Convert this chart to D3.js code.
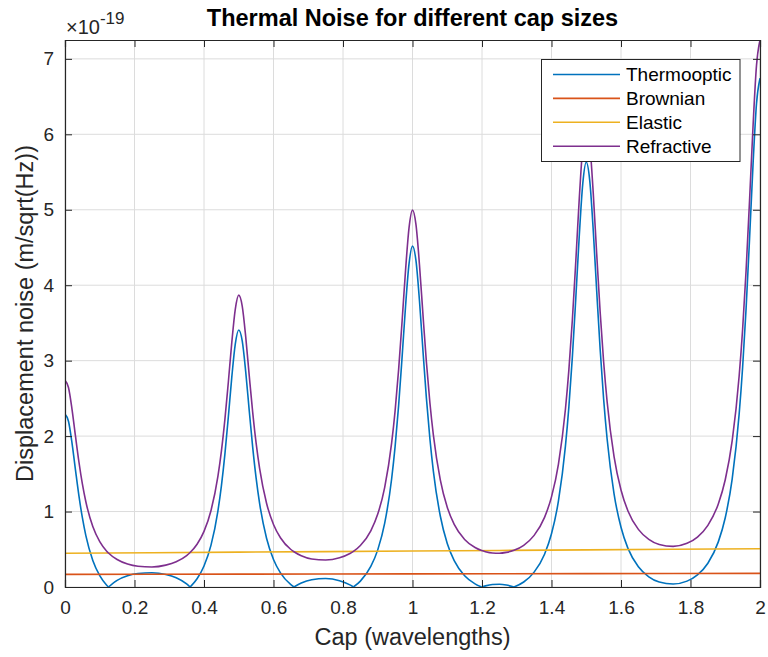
<!DOCTYPE html>
<html>
<head>
<meta charset="utf-8">
<script src="https://cdn.jsdelivr.net/npm/d3@7"></script>
<style>
  html, body { margin: 0; padding: 0; background: #fff; }
  svg { display: block; }
  text { font-family: "Liberation Sans", Arial, Helvetica, sans-serif; }
</style>
</head>
<body>
<svg id="chart" width="768" height="657"></svg>
<script>
// ---------------- data ----------------
const cap = [
  0, 0.01, 0.02, 0.03, 0.04, 0.05, 0.06, 0.08, 0.10, 0.12, 0.125, 0.15, 0.18, 0.21, 0.25,
  0.29, 0.32, 0.35, 0.36, 0.38, 0.40, 0.42, 0.44, 0.45, 0.46, 0.47, 0.48, 0.49, 0.50,
  0.51, 0.52, 0.53, 0.54, 0.55, 0.56, 0.58, 0.60, 0.62, 0.65, 0.659, 0.68, 0.71, 0.75,
  0.79, 0.82, 0.83, 0.85, 0.88, 0.90, 0.92, 0.94, 0.95, 0.96, 0.97, 0.98, 0.99, 1.00,
  1.01, 1.02, 1.03, 1.04, 1.05, 1.06, 1.08, 1.10, 1.12, 1.15, 1.18, 1.199, 1.21, 1.23, 1.25,
  1.27, 1.292, 1.32, 1.35, 1.38, 1.40, 1.42, 1.44, 1.45, 1.46, 1.47, 1.48, 1.49, 1.50,
  1.51, 1.52, 1.53, 1.54, 1.55, 1.56, 1.58, 1.60, 1.62, 1.65, 1.68, 1.71, 1.75,
  1.79, 1.82, 1.85, 1.88, 1.90, 1.92, 1.94, 1.95, 1.96, 1.97, 1.98, 1.99, 2.00
];
const refractive = [
  2.740, 2.644, 2.362, 2.005, 1.660, 1.366, 1.130, 0.801, 0.601, 0.475, 0.451, 0.364, 0.304, 0.275, 0.266,
  0.290, 0.335, 0.417, 0.458, 0.567, 0.738, 1.011, 1.467, 1.798, 2.215, 2.714, 3.242, 3.680, 3.868,
  3.723, 3.318, 2.811, 2.321, 1.906, 1.573, 1.110, 0.829, 0.653, 0.497, 0.467, 0.414, 0.371, 0.357,
  0.387, 0.444, 0.472, 0.550, 0.745, 0.966, 1.321, 1.910, 2.338, 2.877, 3.519, 4.198, 4.759, 4.995,
  4.802, 4.275, 3.616, 2.982, 2.446, 2.016, 1.420, 1.057, 0.830, 0.630, 0.523, 0.483, 0.468, 0.451, 0.448,
  0.459, 0.486, 0.553, 0.684, 0.923, 1.194, 1.630, 2.353, 2.877, 3.538, 4.324, 5.154, 5.838, 6.123,
  5.881, 5.231, 4.421, 3.644, 2.985, 2.459, 1.729, 1.286, 1.008, 0.764, 0.632, 0.564, 0.539,
  0.579, 0.662, 0.817, 1.101, 1.422, 1.939, 2.796, 3.417, 4.199, 5.130, 6.111, 6.917, 7.250
];
const thermooptic = [
  2.293, 2.197, 1.914, 1.557, 1.212, 0.918, 0.681, 0.352, 0.151, 0.024, 0, 0.088, 0.148, 0.178, 0.188,
  0.166, 0.122, 0.041, 0, 0.109, 0.279, 0.551, 1.007, 1.338, 1.754, 2.253, 2.781, 3.218, 3.406,
  3.261, 2.855, 2.348, 1.858, 1.443, 1.109, 0.646, 0.364, 0.187, 0.031, 0, 0.053, 0.097, 0.113,
  0.084, 0.028, 0, 0.078, 0.272, 0.492, 0.846, 1.435, 1.863, 2.401, 3.043, 3.722, 4.282, 4.518,
  4.325, 3.797, 3.138, 2.504, 1.968, 1.537, 0.941, 0.577, 0.349, 0.149, 0.041, 0, 0.015, 0.033, 0.037,
  0.027, 0, 0.066, 0.197, 0.435, 0.705, 1.140, 1.863, 2.387, 3.047, 3.833, 4.663, 5.346, 5.631,
  5.389, 4.738, 3.928, 3.151, 2.492, 1.965, 1.235, 0.791, 0.512, 0.268, 0.135, 0.066, 0.040,
  0.078, 0.160, 0.315, 0.598, 0.918, 1.434, 2.291, 2.912, 3.693, 4.624, 5.605, 6.410, 6.743
];
const capLine  = [0, 0.5, 1, 1.5, 2];
const brownian = [0.168, 0.171, 0.174, 0.177, 0.180];
const elastic  = [0.447, 0.462, 0.477, 0.492, 0.507];

const xTicks = [0, 0.2, 0.4, 0.6, 0.8, 1, 1.2, 1.4, 1.6, 1.8, 2];
const yTicks = [0, 1, 2, 3, 4, 5, 6, 7];
const seriesNames = ["Thermooptic", "Brownian", "Elastic", "Refractive"];
const seriesColors = ["#0072BD", "#D95319", "#EDB120", "#7E2F8E"];

// ---------------- layout ----------------
const L = 65, R = 760, T = 40, B = 587;
const svg = d3.select("#chart");
const x = d3.scaleLinear().domain([0, 2]).range([L, R]);
const y = d3.scaleLinear().domain([0, 7.25]).range([B, T]);
const axisCol = "#262626";

// grid
const grid = svg.append("g");
grid.selectAll(".gx").data(xTicks).join("line")
  .attr("x1", d => x(d)).attr("x2", d => x(d)).attr("y1", T).attr("y2", B)
  .attr("stroke", "#dcdcdc").attr("stroke-width", 1);
grid.selectAll(".gy").data(yTicks).join("line")
  .attr("x1", L).attr("x2", R).attr("y1", d => y(d)).attr("y2", d => y(d))
  .attr("stroke", "#dcdcdc").attr("stroke-width", 1);

// clip
svg.append("clipPath").attr("id", "plotclip").append("rect")
  .attr("x", L).attr("y", T).attr("width", R - L).attr("height", B - T);
const plot = svg.append("g").attr("clip-path", "url(#plotclip)");

const line = d3.line().x(d => x(d[0])).y(d => y(d[1])).curve(d3.curveMonotoneX);
const LW = 1.6;

// thermooptic: split at the zero points so the cusps stay sharp
const tPts = cap.map((c, i) => [c, thermooptic[i]]);
const segs = [];
let cur = [];
tPts.forEach((p, i) => {
  cur.push(p);
  if (p[1] === 0 && cur.length > 1) { segs.push(cur); cur = [p]; }
});
if (cur.length > 1) segs.push(cur);
plot.selectAll(".thermo").data(segs).join("path")
  .attr("d", line).attr("fill", "none")
  .attr("stroke", seriesColors[0]).attr("stroke-width", LW);

plot.append("path").datum(capLine.map((c, i) => [c, brownian[i]]))
  .attr("d", line).attr("fill", "none").attr("stroke", seriesColors[1]).attr("stroke-width", LW);
plot.append("path").datum(capLine.map((c, i) => [c, elastic[i]]))
  .attr("d", line).attr("fill", "none").attr("stroke", seriesColors[2]).attr("stroke-width", LW);
plot.append("path").datum(cap.map((c, i) => [c, refractive[i]]))
  .attr("d", line).attr("fill", "none").attr("stroke", seriesColors[3]).attr("stroke-width", LW);

// axes
const fmtX = d => d3.format("")(+d.toFixed(1));
const gxB = svg.append("g").attr("transform", `translate(0,${B})`)
  .call(d3.axisBottom(x).tickValues(xTicks).tickSize(-7).tickPadding(14).tickFormat(fmtX));
const gxT = svg.append("g").attr("transform", `translate(0,${T})`)
  .call(d3.axisTop(x).tickValues(xTicks).tickSize(-7).tickFormat(""));
const gyL = svg.append("g").attr("transform", `translate(${L},0)`)
  .call(d3.axisLeft(y).tickValues(yTicks).tickSize(-7).tickPadding(11).tickFormat(d3.format("d")));
const gyR = svg.append("g").attr("transform", `translate(${R},0)`)
  .call(d3.axisRight(y).tickValues(yTicks).tickSize(-7).tickFormat(""));
[gxB, gxT, gyL, gyR].forEach(g => {
  g.select(".domain").attr("stroke", axisCol).attr("stroke-width", 1.2);
  g.selectAll(".tick line").attr("stroke", axisCol).attr("stroke-width", 1);
  g.selectAll(".tick text").attr("fill", axisCol)
    .style("font-family", '"Liberation Sans", Arial, sans-serif').style("font-size", "19px");
});

// exponent
const ex = svg.append("text").attr("x", 66).attr("y", 34).attr("fill", axisCol)
  .style("font-size", "20px");
ex.append("tspan").text("\u00d710");
ex.append("tspan").attr("dy", -10).style("font-size", "17px").text("-19");

// title & labels
svg.append("text").attr("x", (L + R) / 2).attr("y", 26).attr("text-anchor", "middle")
  .style("font-size", "23.5px").style("font-weight", "bold").attr("fill", "#000")
  .text("Thermal Noise for different cap sizes");
svg.append("text").attr("x", (L + R) / 2).attr("y", 645).attr("text-anchor", "middle")
  .style("font-size", "23.5px").attr("fill", axisCol).text("Cap (wavelengths)");
svg.append("text").attr("transform", `translate(33,${(T + B) / 2}) rotate(-90)`)
  .attr("text-anchor", "middle").style("font-size", "23.5px").attr("fill", axisCol)
  .text("Displacement noise (m/sqrt(Hz))");

// legend
const lg = svg.append("g");
lg.append("rect").attr("x", 541.5).attr("y", 59.5).attr("width", 198.5).attr("height", 102)
  .attr("fill", "#fff").attr("stroke", axisCol).attr("stroke-width", 1);
seriesNames.forEach((name, i) => {
  const yy = 74.5 + i * 23.9;
  lg.append("line").attr("x1", 553).attr("x2", 620).attr("y1", yy).attr("y2", yy)
    .attr("stroke", seriesColors[i]).attr("stroke-width", LW);
  lg.append("text").attr("x", 626).attr("y", yy).attr("dy", "0.35em")
    .style("font-size", "19px").attr("fill", "#000").text(name);
});
</script>
</body>
</html>
